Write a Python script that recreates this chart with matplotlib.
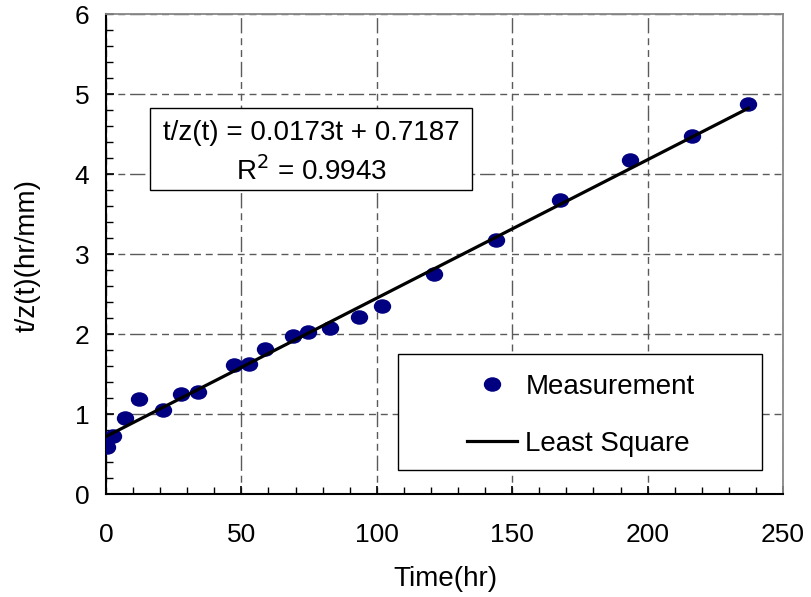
import matplotlib.pyplot as plt
import numpy as np
from matplotlib.path import Path
from matplotlib.transforms import Affine2D
from matplotlib.patches import Rectangle

plt.rcParams['font.family'] = ['Liberation Sans', 'DejaVu Sans']

time_hr = [0.3, 2.5, 7, 12.3, 21.2, 27.7, 34, 47.2, 52.9, 58.7, 68.9, 74.6, 82.9,
           93.4, 102.1, 121.3, 144.2, 167.8, 193.6, 216.5, 237.2]
t_over_z = [0.59, 0.72, 0.95, 1.19, 1.05, 1.25, 1.27, 1.61, 1.63, 1.81, 1.97, 2.03, 2.08,
            2.21, 2.35, 2.75, 3.18, 3.67, 4.18, 4.47, 4.87]

# least square fit shown on the chart
slope = 0.0173
intercept = 0.7187
r2 = 0.9943
fit_t = [0, 237.2]

W, H = 812, 597


def fx(px):
    return px / W


def fy(py):
    return 1 - py / H


fig = plt.figure(figsize=(8.12, 5.97), dpi=100)
ax = fig.add_axes([fx(106), fy(494), fx(783) - fx(106), fy(14) - fy(494)])

# slightly flattened dots like the original
ellipse = Path.unit_circle().transformed(Affine2D().scale(1, 0.82))

fit_v = [slope * t + intercept for t in fit_t]
ax.plot(time_hr, t_over_z, linestyle='none', marker=ellipse, color='#000080',
        markersize=11.5, label='Measurement', zorder=3)
ax.plot(fit_t, fit_v, '-', color='black', linewidth=2.3, label='Least Square', zorder=4)

ax.set_xlim(0, 250)
ax.set_ylim(0, 6)
ax.set_xticks(np.arange(0, 251, 50))
ax.set_yticks(np.arange(0, 7, 1))
ax.set_xticks(np.arange(0, 251, 10), minor=True)
ax.set_yticks(np.arange(0, 6.01, 0.2), minor=True)

ax.grid(True, which='major', color='#5a5a5a', linewidth=1.0, dashes=(5, 3.5, 5, 3.5, 11, 3.5))
ax.set_axisbelow(True)

ax.tick_params(which='both', direction='in', top=False, right=False, labelsize=19)
ax.tick_params(which='major', length=6, width=1.2)
ax.tick_params(which='minor', length=5, width=1.0)
ax.tick_params(axis='x', which='major', pad=21)
ax.tick_params(axis='y', which='major', pad=12)

for s in ['left', 'bottom']:
    ax.spines[s].set_color('black')
    ax.spines[s].set_linewidth(1.5)
for s in ['top', 'right']:
    ax.spines[s].set_color('#888888')
    ax.spines[s].set_linewidth(1.3)

ax.set_xlabel('Time(hr)', fontsize=20)
ax.set_ylabel('t/z(t)(hr/mm)', fontsize=20)
ax.xaxis.set_label_coords((445 - 106) / (783 - 106), -(566 - 494) / (494 - 14))
ax.yaxis.set_label_coords(-(106 - 41) / (783 - 106), (494 - 255) / (494 - 14))

# equation box
ax.add_patch(Rectangle((fx(150), fy(190)), fx(472) - fx(150), fy(108) - fy(190),
                       transform=fig.transFigure, facecolor='white', clip_on=False,
                       edgecolor='black', linewidth=1.0, zorder=5))
ax.text(fx(311), fy(133), 't/z(t) = %.4ft + %.4f' % (slope, intercept),
        transform=fig.transFigure, ha='center', va='center', fontsize=20, zorder=6)
ax.text(fx(311), fy(171), 'R$^2$ = %.4f' % r2,
        transform=fig.transFigure, ha='center', va='center', fontsize=20, zorder=6)

# legend box
ax.add_patch(Rectangle((fx(398), fy(470)), fx(762) - fx(398), fy(354) - fy(470),
                       transform=fig.transFigure, facecolor='white', clip_on=False,
                       edgecolor='black', linewidth=1.0, zorder=5))
leg = ax.legend(loc='upper left', bbox_to_anchor=(fx(467), fy(374)),
                bbox_transform=fig.transFigure, fontsize=20, frameon=False,
                handlelength=1.8, handletextpad=0.3, labelspacing=1.1, borderpad=0,
                borderaxespad=0)
leg.set_zorder(7)

fig.savefig('out.png', dpi=100)
